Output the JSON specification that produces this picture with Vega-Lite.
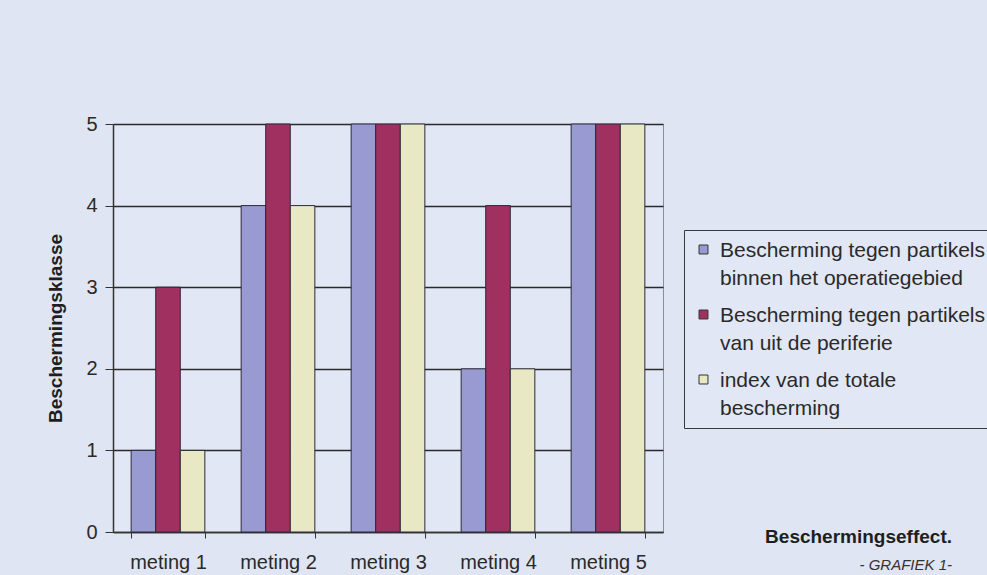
{
  "$schema": "https://vega.github.io/schema/vega-lite/v6.json",
  "width": 550,
  "height": 408,
  "autosize": {"type": "none"},
  "padding": {"left": 113, "top": 124, "right": 324, "bottom": 43},
  "background": "#dfe5f3",
  "config": {
    "font": "Liberation Sans",
    "view": {"stroke": "#8a8e9a", "strokeWidth": 1, "fill": "#e1e7f4"}
  },
  "title": {
    "text": "Beschermingseffect.",
    "subtitle": "- GRAFIEK 1-",
    "orient": "bottom",
    "anchor": "end",
    "frame": "group",
    "dx": 289,
    "offset": -44,
    "font": "Liberation Sans",
    "fontSize": 19,
    "fontWeight": "bold",
    "color": "#1e1e1e",
    "subtitleFont": "Liberation Sans",
    "subtitleFontSize": 15,
    "subtitleFontStyle": "italic",
    "subtitleColor": "#333333",
    "subtitlePadding": 11
  },
  "data": {
    "values": [
      {"meting": "meting 1", "reeks": "Bescherming tegen partikels|binnen het operatiegebied", "klasse": 1},
      {"meting": "meting 1", "reeks": "Bescherming tegen partikels|van uit de periferie", "klasse": 3},
      {"meting": "meting 1", "reeks": "index van de totale|bescherming", "klasse": 1},
      {"meting": "meting 2", "reeks": "Bescherming tegen partikels|binnen het operatiegebied", "klasse": 4},
      {"meting": "meting 2", "reeks": "Bescherming tegen partikels|van uit de periferie", "klasse": 5},
      {"meting": "meting 2", "reeks": "index van de totale|bescherming", "klasse": 4},
      {"meting": "meting 3", "reeks": "Bescherming tegen partikels|binnen het operatiegebied", "klasse": 5},
      {"meting": "meting 3", "reeks": "Bescherming tegen partikels|van uit de periferie", "klasse": 5},
      {"meting": "meting 3", "reeks": "index van de totale|bescherming", "klasse": 5},
      {"meting": "meting 4", "reeks": "Bescherming tegen partikels|binnen het operatiegebied", "klasse": 2},
      {"meting": "meting 4", "reeks": "Bescherming tegen partikels|van uit de periferie", "klasse": 4},
      {"meting": "meting 4", "reeks": "index van de totale|bescherming", "klasse": 2},
      {"meting": "meting 5", "reeks": "Bescherming tegen partikels|binnen het operatiegebied", "klasse": 5},
      {"meting": "meting 5", "reeks": "Bescherming tegen partikels|van uit de periferie", "klasse": 5},
      {"meting": "meting 5", "reeks": "index van de totale|bescherming", "klasse": 5}
    ]
  },
  "mark": {"type": "bar", "stroke": "#2a2a3a", "strokeWidth": 1},
  "encoding": {
    "x": {
      "field": "meting",
      "type": "nominal",
      "scale": {"paddingInner": 0.33, "paddingOuter": 0.165},
      "axis": {
        "title": null,
        "labelAngle": 0,
        "labelFontSize": 20,
        "labelColor": "#2a2a2a",
        "labelPadding": 14,
        "domainColor": "#333333",
        "domainWidth": 1.5,
        "tickBand": "extent",
        "tickColor": "#333333",
        "tickSize": 6
      }
    },
    "xOffset": {"field": "reeks", "type": "nominal", "scale": {"paddingInner": 0, "paddingOuter": 0}},
    "y": {
      "field": "klasse",
      "type": "quantitative",
      "scale": {"domain": [0, 5]},
      "axis": {
        "title": "Beschermingsklasse",
        "titleFontSize": 19,
        "titleFontWeight": "bold",
        "titleColor": "#1e1e1e",
        "titlePadding": 20,
        "values": [0, 1, 2, 3, 4, 5],
        "labelFontSize": 20,
        "labelColor": "#2a2a2a",
        "labelPadding": 8,
        "domainColor": "#333333",
        "domainWidth": 1.5,
        "tickColor": "#333333",
        "tickSize": 8,
        "grid": true,
        "gridColor": "#2a2a2a",
        "gridWidth": 1.5
      }
    },
    "color": {
      "field": "reeks",
      "type": "nominal",
      "scale": {
        "domain": [
          "Bescherming tegen partikels|binnen het operatiegebied",
          "Bescherming tegen partikels|van uit de periferie",
          "index van de totale|bescherming"
        ],
        "range": ["#9a9ad2", "#a0305f", "#e9e8c4"]
      },
      "legend": {
        "title": null,
        "orient": "none",
        "legendX": 571,
        "legendY": 106,
        "direction": "vertical",
        "strokeColor": "#3a3a3a",
        "fillColor": "#e1e7f4",
        "padding": 9,
        "symbolType": "square",
        "symbolSize": 80,
        "symbolStrokeColor": "#333333",
        "symbolStrokeWidth": 1,
        "symbolOpacity": 1,
        "labelExpr": "split(datum.label, '|')",
        "labelFontSize": 21,
        "labelColor": "#2a2a2a",
        "labelLimit": 400,
        "labelBaseline": "top",
        "labelOffset": 6,
        "rowPadding": 15,
        "encode": {"labels": {"update": {"lineHeight": {"value": 28}, "dy": {"value": -10}}}}
      }
    }
  }
}
